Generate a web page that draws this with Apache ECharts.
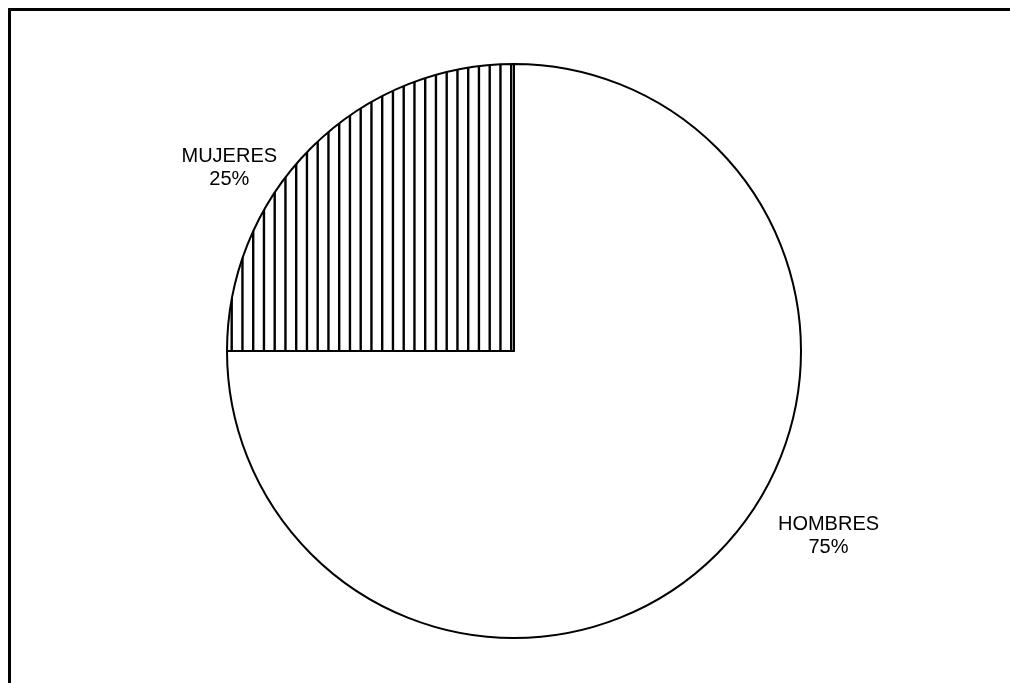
<!DOCTYPE html>
<html>
<head>
<meta charset="utf-8">
<script src="https://cdn.jsdelivr.net/npm/echarts@6/dist/echarts.min.js"></script>
<style>
    html, body { margin: 0; padding: 0; background: #fff; }
    #main { width: 1010px; height: 683px; }
</style>
</head>
<body>
<div id="main"></div>
<script>
// datos
var categorias = ['HOMBRES', 'MUJERES'];
var valores = [75, 25];

// ajuste fino de etiquetas (dx, dy) respecto a la posicion 'outside'
var desplazamientos = [[56, -18], [-29, 20]];

// trama de rayas verticales para MUJERES
function rayas() {
    var c = document.createElement('canvas');
    c.width = 43;
    c.height = 10;
    var ctx = c.getContext('2d');
    ctx.fillStyle = '#fff';
    ctx.fillRect(0, 0, 43, 10);
    ctx.fillStyle = '#000';
    [5.95, 16.7, 27.45, 38.2].forEach(function (x) {
        ctx.fillRect(x - 1.2, 0, 2.4, 10);
    });
    return c;
}

var myChart = echarts.init(document.getElementById('main'));

var datos = categorias.map(function (nombre, i) {
    var item = { name: nombre, value: valores[i] };
    if (nombre === 'MUJERES') {
        item.itemStyle = { color: { image: rayas(), repeat: 'repeat' } };
    } else {
        item.itemStyle = { color: '#fff' };
    }
    return item;
});

var option = {
    backgroundColor: '#fff',
    animation: false,
    graphic: [{
        type: 'rect',
        shape: { x: 9.5, y: 9.5, width: 1100, height: 1000 },
        style: { fill: 'none', stroke: '#000', lineWidth: 3 },
        silent: true
    }],
    series: [{
        type: 'pie',
        center: [514, 351],
        radius: 287,
        startAngle: 90,
        clockwise: true,
        data: datos,
        itemStyle: {
            borderColor: '#000',
            borderWidth: 2
        },
        label: {
            show: true,
            position: 'outside',
            formatter: '{b}\n{d}%',
            fontFamily: 'Liberation Sans, Arial, sans-serif',
            fontSize: 20,
            lineHeight: 23,
            color: '#000'
        },
        labelLine: { show: false, length: 0, length2: 0 },
        labelLayout: function (params) {
            var r = params.labelRect;
            var d = desplazamientos[params.dataIndex];
            return {
                x: r.x + r.width / 2 + d[0],
                y: r.y + r.height / 2 + d[1],
                align: 'center',
                verticalAlign: 'middle'
            };
        },
        emphasis: { disabled: true }
    }]
};

myChart.setOption(option);
</script>
</body>
</html>
